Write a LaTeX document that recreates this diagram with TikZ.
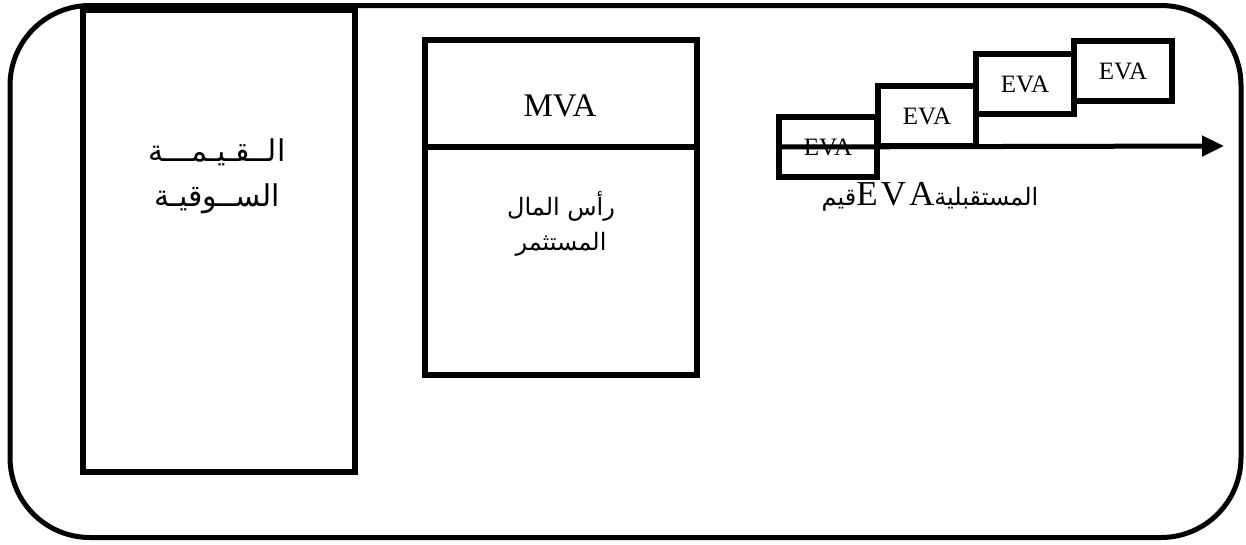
\documentclass[tikz,border=0pt]{standalone}
\usepackage{fontspec}
\setmainfont{Liberation Serif}
\newfontfamily\arabicfont[Script=Arabic]{DejaVu Sans}
\TeXXeTstate=1
\usetikzlibrary{arrows.meta}

\tikzset{
  frame/.style={draw, line width=5pt, rounded corners=80pt, inner sep=0pt},
  bigbox/.style={draw, line width=5.5pt, inner sep=0pt},
  evabox/.style={draw, line width=5.5pt, inner sep=0pt, minimum width=98pt, minimum height=60pt,
    font=\fontsize{25}{28}\selectfont},
  artext/.style={font=\arabicfont\fontsize{30}{45}\selectfont, align=center},
  timeline/.style={line width=5pt, -{Triangle[length=22pt,width=20pt]}}
}

\begin{document}
\begin{tikzpicture}[x=1pt,y=-1pt]
\useasboundingbox (0,0) rectangle (1246,544);

\node[frame, minimum width=1231pt, minimum height=532pt] (frame) at (625.5,271.5) {};

% market value
\node[bigbox, minimum width=272pt, minimum height=462pt] (market) at (219,241) {};
\node[artext] (marketlbl) at (217,176) {\beginR الــقـيـمـــة\endR\\\beginR الســوقيـة\endR};

% invested capital + MVA
\node[bigbox, minimum width=272pt, minimum height=335pt] (capital) at (561,207.5) {};
\draw[line width=5.5pt] (capital.west |- 0,147) -- (capital.east |- 0,147);
\node[font=\fontsize{33}{36}\selectfont] (mva) at (560,106) {MVA};
\node[artext, font=\arabicfont\fontsize{24}{35}\selectfont] (capitallbl) at (561,224) {\beginR رأس المال\endR\\\beginR المستثمر\endR};

% future EVA
\node[evabox] (eva1) at (828,147) {EVA};
\node[evabox] (eva2) at (927,116) {EVA};
\node[evabox] (eva3) at (1025,84) {EVA};
\node[evabox] (eva4) at (1123,71) {EVA};

\coordinate (axisend) at (1224,146);
\draw[timeline] (eva1.west) -- (axisend);

\node[font=\arabicfont\fontsize{24}{30}\selectfont, inner sep=0pt] (evalbl) at (930,197)
  {\beginR قيم\endR{\rmfamily\fontsize{35}{36}\selectfont E\kern3pt V\kern3pt A}\beginR المستقبلية\endR};

\end{tikzpicture}
\end{document}
